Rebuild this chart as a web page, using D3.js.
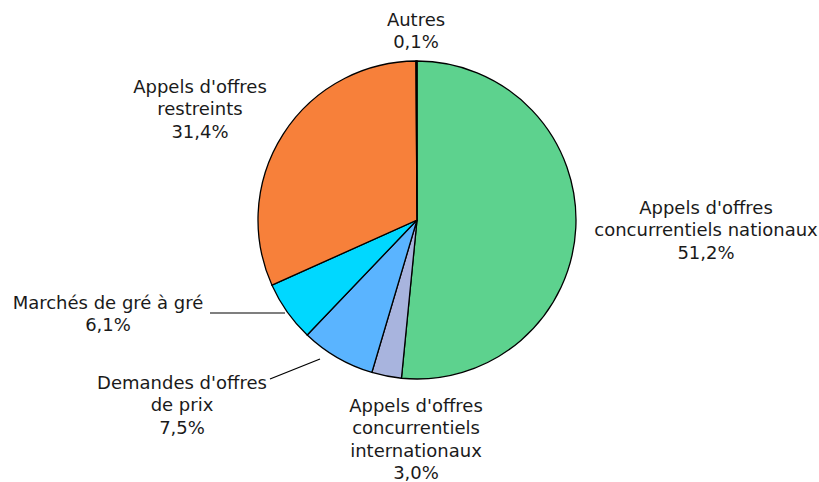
<!DOCTYPE html>
<html><head><meta charset="utf-8">
<script src="https://cdn.jsdelivr.net/npm/d3@7"></script>
<style>body{margin:0;background:#fff}svg{display:block}</style>
</head><body>
<script>
const categories = ["Appels d'offres concurrentiels nationaux", "Appels d'offres concurrentiels internationaux", "Demandes d'offres de prix", "Marchés de gré à gré", "Appels d'offres restreints", "Autres"];
const values = [51.2, 3.0, 7.5, 6.1, 31.4, 0.1];
const valueLabels = ["51,2%", "3,0%", "7,5%", "6,1%", "31,4%", "0,1%"];
const labelLines = [
  ["Appels d'offres", "concurrentiels nationaux", "51,2%"],
  ["Appels d'offres", "concurrentiels", "internationaux", "3,0%"],
  ["Demandes d'offres", "de prix", "7,5%"],
  ["Marchés de gré à gré", "6,1%"],
  ["Appels d'offres", "restreints", "31,4%"],
  ["Autres", "0,1%"]
];
const colors = ["#5dd28e", "#a8b4de", "#5ab4ff", "#00d8ff", "#f7803a", "#000000"];

const W = 819, H = 482, cx = 417, cy = 220, R = 159;
const svg = d3.select("body").append("svg").attr("width", W).attr("height", H);
const g = svg.append("g").attr("transform", `translate(${cx},${cy})`);
const pie = d3.pie().sort(null).value(d => d);
const arc = d3.arc().innerRadius(0).outerRadius(R);
const arcs = pie(values);
g.selectAll("path").data(arcs).enter().append("path")
  .attr("d", arc).attr("fill", (d, i) => colors[i])
  .attr("stroke", "#000").attr("stroke-width", 1.3);

// label layout (anchor x, first-line baseline y)
const layout = [
  {x: 706, y: 214},
  {x: 416, y: 412},
  {x: 182, y: 389},
  {x: 108, y: 309},
  {x: 200, y: 93},
  {x: 416, y: 26}
];
const lh = 22.4;
const labels = svg.append("g").attr("font-family", "'DejaVu Sans', Verdana, sans-serif").attr("font-size", 18).attr("fill", "#1a1a1a");
labelLines.forEach((lines, i) => {
  const t = labels.append("text").attr("text-anchor", "middle").attr("x", layout[i].x).attr("y", layout[i].y);
  lines.forEach((s, j) => t.append("tspan").attr("x", layout[i].x).attr("dy", j === 0 ? 0 : lh).text(s));
});

// leader lines
const leaders = [
  {i: 3, pts: [[210, 313], [285, 313]]},
  {i: 2, pts: [[270, 379], [320, 359]]}
];
leaders.forEach(l => svg.append("path").attr("d", d3.line()(l.pts)).attr("stroke", "#000").attr("stroke-width", 1.2).attr("fill", "none"));
</script>
</body></html>
